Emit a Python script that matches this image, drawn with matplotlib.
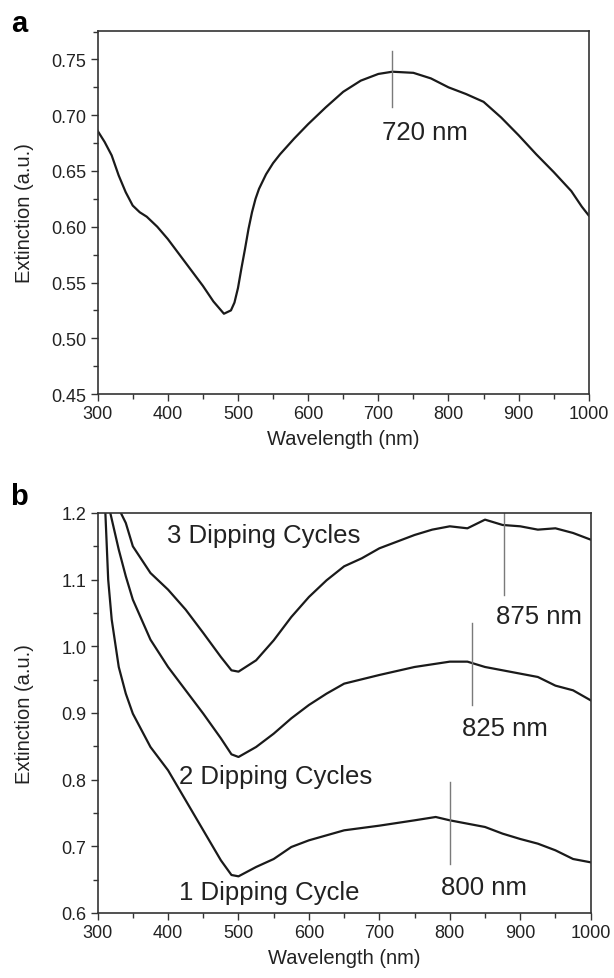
import matplotlib
matplotlib.use("Agg")
import matplotlib.pyplot as plt
from matplotlib.ticker import MultipleLocator

plt.rcParams['font.family'] = ['Liberation Sans', 'DejaVu Sans']

# ---------------- Panel a data ----------------
wl_a = [300, 310, 320, 330, 340, 350, 360, 370, 385, 400, 425, 450, 465, 480, 490, 495,
        500, 505, 510, 515, 520, 525, 530, 540, 550,
        560, 580, 600, 625, 650, 675, 700, 720, 750, 775, 800, 825, 850, 875, 900, 925,
        950, 975, 990, 995, 1000]
ext_a = [0.686, 0.676, 0.664, 0.646, 0.631, 0.619, 0.613, 0.609, 0.600, 0.589, 0.568, 0.547,
         0.533, 0.522, 0.525, 0.532, 0.545, 0.563, 0.580, 0.598, 0.613, 0.625, 0.634, 0.647,
         0.657, 0.665, 0.679, 0.692, 0.707, 0.721, 0.731, 0.737, 0.739,
         0.738, 0.733, 0.725, 0.719, 0.712, 0.698, 0.682, 0.665, 0.649, 0.632, 0.618, 0.614, 0.610]
peak_a = 720
peak_a_label = "720 nm"

# ---------------- Panel b data ----------------
wl_b1 = [311, 315, 320, 330, 340, 350, 375, 400, 425, 450, 475, 490, 500, 525, 550, 575,
         600, 650, 700, 750, 780, 800, 825, 850, 875, 900, 925, 950, 975, 1000]
ext_b1 = [1.200, 1.100, 1.040, 0.969, 0.929, 0.899, 0.849, 0.814, 0.769, 0.724, 0.679, 0.657,
          0.655, 0.669, 0.681, 0.699, 0.709, 0.724, 0.731, 0.739, 0.744, 0.739, 0.734, 0.729,
          0.719, 0.711, 0.704, 0.694, 0.681, 0.676]

wl_b2 = [318, 330, 340, 350, 375, 400, 425, 450, 475, 490, 500, 525, 550, 575, 600, 625,
         650, 700, 750, 800, 825, 850, 875, 900, 925, 950, 975, 1000]
ext_b2 = [1.200, 1.145, 1.105, 1.070, 1.010, 0.969, 0.934, 0.899, 0.862, 0.838, 0.834, 0.849,
          0.869, 0.892, 0.912, 0.929, 0.944, 0.957, 0.969, 0.977, 0.977, 0.969, 0.964, 0.959,
          0.954, 0.941, 0.934, 0.919]

wl_b3 = [333, 340, 350, 375, 400, 425, 450, 475, 490, 500, 525, 550, 575, 600, 625, 650,
         675, 700, 725, 750, 775, 800, 825, 850, 875, 900, 925, 950, 975, 1000]
ext_b3 = [1.200, 1.185, 1.150, 1.110, 1.085, 1.055, 1.020, 0.984, 0.964, 0.962, 0.979, 1.009,
          1.044, 1.074, 1.099, 1.120, 1.132, 1.147, 1.157, 1.167, 1.175, 1.180, 1.177, 1.190,
          1.182, 1.180, 1.175, 1.177, 1.170, 1.160]

series_labels = ["1 Dipping Cycle", "2 Dipping Cycles", "3 Dipping Cycles"]
peaks_b = [800, 832, 877]
peak_b_labels = ["800 nm", "825 nm", "875 nm"]

xticks = [300, 400, 500, 600, 700, 800, 900, 1000]

LINE = "#1a1a1a"
MARK = "#7a7a7a"
TXT = "#222222"
ANN = 18.5

fig = plt.figure(figsize=(6.14, 9.79), dpi=100)
ax_a = fig.add_axes([0.159, 0.5965, 0.800, 0.3708])
ax_b = fig.add_axes([0.159, 0.0664, 0.803, 0.4086])


def style(ax, ymin, ymax, ymaj, ymin_step):
    ax.set_xlim(300, 1000)
    ax.set_ylim(ymin, ymax)
    ax.set_xticks(xticks)
    ax.xaxis.set_minor_locator(MultipleLocator(50))
    ax.yaxis.set_major_locator(MultipleLocator(ymaj))
    ax.yaxis.set_minor_locator(MultipleLocator(ymin_step))
    ax.tick_params(which='both', direction='out', top=False, right=False,
                   colors='#333333', labelcolor=TXT, width=1.0)
    ax.tick_params(which='major', length=5, labelsize=13, pad=3)
    ax.tick_params(which='minor', length=3.5)
    for s in ax.spines.values():
        s.set_color('#333333')
        s.set_linewidth(1.2)
    ax.set_xlabel("Wavelength (nm)", fontsize=14.5, color=TXT, labelpad=5)
    ax.set_ylabel("Extinction (a.u.)", fontsize=14.5, color=TXT)
    ax.yaxis.set_label_coords(-0.13, 0.5)


# Panel a
ax_a.plot(wl_a, ext_a, color=LINE, lw=1.6)
ax_a.plot([peak_a, peak_a], [0.707, 0.758], color=MARK, lw=1.0)
ax_a.text(705, 0.685, peak_a_label, fontsize=ANN, color=TXT, ha='left', va='center')
style(ax_a, 0.45, 0.7755, 0.05, 0.025)
ax_a.set_yticks([0.45, 0.50, 0.55, 0.60, 0.65, 0.70, 0.75])
ax_a.set_yticklabels(["0.45", "0.50", "0.55", "0.60", "0.65", "0.70", "0.75"])

# Panel b
for wl, ext in [(wl_b1, ext_b1), (wl_b2, ext_b2), (wl_b3, ext_b3)]:
    ax_b.plot(wl, ext, color=LINE, lw=1.6, clip_on=True)
ax_b.plot([peaks_b[0]] * 2, [0.674, 0.797], color=MARK, lw=1.0)
ax_b.plot([peaks_b[1]] * 2, [0.912, 1.035], color=MARK, lw=1.0)
ax_b.plot([peaks_b[2]] * 2, [1.077, 1.200], color=MARK, lw=1.0)
ax_b.text(787, 0.639, peak_b_labels[0], fontsize=ANN, color=TXT, ha='left', va='center')
ax_b.text(818, 0.877, peak_b_labels[1], fontsize=ANN, color=TXT, ha='left', va='center')
ax_b.text(865, 1.045, peak_b_labels[2], fontsize=ANN, color=TXT, ha='left', va='center')
ax_b.text(415, 0.631, series_labels[0], fontsize=ANN, color=TXT, ha='left', va='center')
ax_b.text(415, 0.806, series_labels[1], fontsize=ANN, color=TXT, ha='left', va='center')
ax_b.text(398, 1.167, series_labels[2], fontsize=ANN, color=TXT, ha='left', va='center')
style(ax_b, 0.6, 1.2, 0.1, 0.05)
ax_b.set_yticks([0.6, 0.7, 0.8, 0.9, 1.0, 1.1, 1.2])
ax_b.set_yticklabels(["0.6", "0.7", "0.8", "0.9", "1.0", "1.1", "1.2"])

fig.text(19 / 614, 1 - 24 / 979, "a", fontsize=21, fontweight='bold', ha='center', va='center')
fig.text(19 / 614, 1 - 497 / 979, "b", fontsize=21, fontweight='bold', ha='center', va='center')

fig.savefig("out.png", dpi=100, facecolor='white')
